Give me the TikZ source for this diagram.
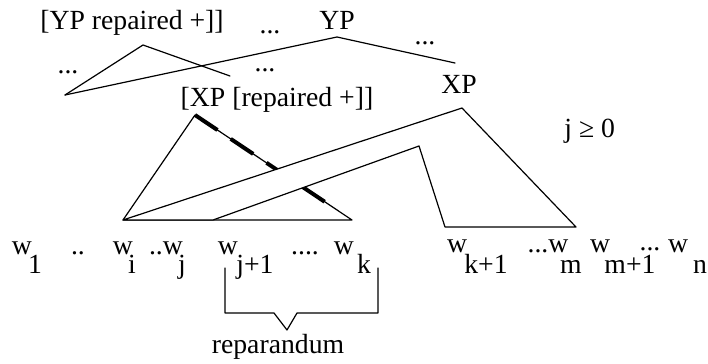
\documentclass[tikz,border=0pt]{standalone}
\usepackage{fontspec}
\setmainfont{Liberation Serif}
\usetikzlibrary{calc}
\tikzset{
  lbl/.style={inner sep=0pt,anchor=base},
  treeline/.style={line width=0.6pt},
  repdash/.style={line width=2pt,line cap=butt,dash pattern=on 13.5pt off 8pt},
}

\begin{document}
\begin{tikzpicture}[x=0.5pt,y=-0.5pt,line cap=round,line join=round,font=\fontsize{13.85}{16}\selectfont]
\useasboundingbox (0,0) rectangle (708,364);
% upper tree
\node[lbl] (ypRep) at (132,29) {[YP repaired +]]};
\node[lbl] (dotsTop) at (270,33) {...};
\node[lbl] (yp) at (337,29) {YP};
\node[lbl] (dotsLeft) at (68,73) {...};
\node[lbl] (dotsMid) at (265,71) {...};
\node[lbl] (dotsRight) at (425,45) {...};
\node[lbl] (xpRep) at (277,106) {[XP [repaired +]]};
\node[lbl] (xp) at (459,93) {XP};
\node[lbl,anchor=base west] (cond) at (564,137) {j ≥ 0};
\coordinate (ypTop) at (337,37);
\coordinate (ypLeft) at (65,95);
\coordinate (ypRight) at (455,63);
\coordinate (ypRepTop) at (143,45);
\coordinate (ypRepRight) at (230,76);
\draw[treeline] (ypLeft) -- (ypTop) -- (ypRight);
\draw[treeline] (ypLeft) -- (ypRepTop) -- (ypRepRight);
% repaired triangle and XP band
\coordinate (triTop) at (195,115);
\coordinate (triLeft) at (123,220);
\coordinate (triRight) at (352,220);
\coordinate (dashEnd) at ($(triTop)!0.88!(triRight)$);
\draw[treeline] (triLeft) -- (triTop) -- (triRight) -- cycle;
\draw[repdash] (triTop) -- (dashEnd);
\coordinate (xpTop) at (462,108);
\coordinate (xpRight) at (576,227);
\coordinate (xpFoot) at (445,227);
\coordinate (xpKnee) at (419,146);
\coordinate (xpInner) at (213,220);
\draw[treeline,fill=white] (triLeft) -- (xpTop) -- (xpRight) -- (xpFoot) -- (xpKnee) -- (xpInner) -- cycle;
% words
\node[lbl] (w1) at (22,254) {w};
\node[lbl] (s1) at (35,273) {1};
\node[lbl] (dotsA) at (78,254) {..};
\node[lbl] (wi) at (123,254) {w};
\node[lbl] (si) at (132,273) {i};
\node[lbl] (wj) at (166,254) {..w};
\node[lbl] (sj) at (182,273) {j};
\node[lbl] (wjn) at (228,254) {w};
\node[lbl] (sjn) at (255,273) {j+1};
\node[lbl] (dotsB) at (305,254) {....};
\node[lbl] (wk) at (344,254) {w};
\node[lbl] (sk) at (364,273) {k};
\node[lbl] (wkn) at (457,252) {w};
\node[lbl] (skn) at (486,273) {k+1};
\node[lbl] (wm) at (548,252) {...w};
\node[lbl] (sm) at (571,273) {m};
\node[lbl] (wmn) at (600,252) {w};
\node[lbl] (smn) at (630,273) {m+1};
\node[lbl] (dotsC) at (650,250) {...};
\node[lbl] (wn) at (678,252) {w};
\node[lbl] (sn) at (700,273) {n};
% reparandum bracket
\coordinate (brA) at (225,268);
\coordinate (brB) at (225,313);
\coordinate (brC) at (274,313);
\coordinate (brD) at (287,330);
\coordinate (brE) at (297,313);
\coordinate (brF) at (378,313);
\coordinate (brG) at (378,268);
\draw[treeline] (brA) -- (brB) -- (brC) -- (brD) -- (brE) -- (brF) -- (brG);
\node[lbl] (rep) at (278,353) {reparandum};
\end{tikzpicture}
\end{document}
